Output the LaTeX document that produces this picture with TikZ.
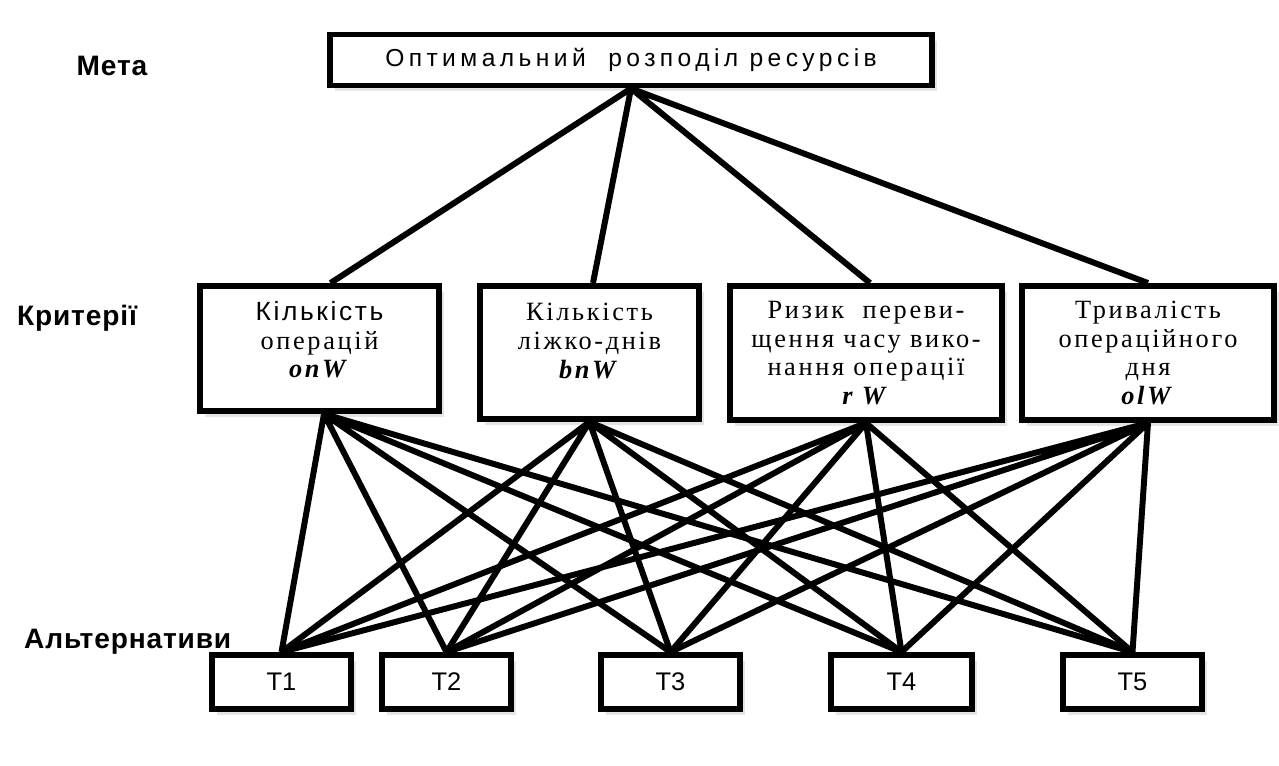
\documentclass[tikz,border=0pt]{standalone}
\usepackage{fontspec}
\setmainfont{Liberation Serif}
\setsansfont{Liberation Sans}
\newfontfamily\goalfont[LetterSpace=18]{Liberation Sans}
\newfontfamily\critfont[LetterSpace=10]{Liberation Serif}
\newfontfamily\critsans[LetterSpace=10]{Liberation Sans}
\newfontfamily\levelfont[LetterSpace=3]{Liberation Sans}
\usetikzlibrary{shadows}

\begin{document}
\begin{tikzpicture}[x=0.02cm, y=-0.02cm,
    box/.style={draw, line width=3.4pt, fill=white, inner sep=0pt, align=center,
      drop shadow={shadow xshift=0.1cm, shadow yshift=-0.12cm, fill=black!10, opacity=1}},
    crit/.style={box, minimum height=2.68cm, font=\critfont\fontsize{15pt}{16.3pt}\selectfont},
    alt/.style={box, minimum width=2.78cm, minimum height=1.08cm, font=\sffamily\fontsize{14.5pt}{16pt}\selectfont},
    level/.style={font=\levelfont\bfseries\fontsize{16pt}{18pt}\selectfont},
    link/.style={line width=3.4pt}]
    \useasboundingbox[fill=white] (0,0) rectangle (1279,765);

    % Goal
    \node[level] (meta) at (112,66) {Мета};
    \node[box, minimum width=12.04cm, minimum height=1.02cm,
      font=\goalfont\fontsize{14pt}{16pt}\selectfont] (goal) at (631,60)
      {Оптимальний\ \ розподіл ресурсів};

    % Criteria
    \node[level] (krit) at (77,318) {Критерії};
    \node[crit, minimum width=4.78cm, minimum height=2.5cm] (c1) at (319.5,348.5)
      {{\critsans Кількість}\\операцій\\\textbf{\textit{onW}}\\[-6pt]\mbox{}};
    \node[crit, minimum width=4.38cm, minimum height=2.66cm] (c2) at (589.5,352.5)
      {Кількість\\ліжко-днів\\\textbf{\textit{bnW}}\\[-3pt]\mbox{}};
    \node[crit, minimum width=5.44cm] (c3) at (866,353)
      {Ризик\ \ переви-\\щення часу вико-\\нання операції\\\textbf{\textit{r W}}};
    \node[crit, minimum width=5.04cm] (c4) at (1148,353)
      {Тривалість\\операційного\\дня\\\textbf{\textit{olW}}};

    % Alternatives
    \node[level, anchor=west] (alts) at (18,642) {Альтернативи};
    \node[alt] (t1) at (281.5,682) {T1};
    \node[alt, minimum width=2.58cm] (t2) at (446.5,682) {T2};
    \node[alt] (t3) at (670.5,682) {T3};
    \node[alt, minimum width=2.82cm] (t4) at (901.5,682) {T4};
    \node[alt] (t5) at (1132.5,682) {T5};

    % Goal to criteria
    \draw[link] (goal.south) -- ([xshift=0.22cm]c1.north)
      (goal.south) -- ([xshift=0.07cm]c2.north)
      (goal.south) -- ([xshift=0.08cm]c3.north)
      (goal.south) -- (c4.north);

    % Criteria to alternatives
    \draw[link] ([xshift=0.09cm]c1.south) -- (t1.north) ([xshift=0.09cm]c1.south) -- (t2.north)
      ([xshift=0.09cm]c1.south) -- (t3.north) ([xshift=0.09cm]c1.south) -- (t4.north)
      ([xshift=0.09cm]c1.south) -- (t5.north);
    \draw[link] (c2.south) -- (t1.north) (c2.south) -- (t2.north) (c2.south) -- (t3.north)
      (c2.south) -- (t4.north) (c2.south) -- (t5.north);
    \draw[link] (c3.south) -- (t1.north) (c3.south) -- (t2.north) (c3.south) -- (t3.north)
      (c3.south) -- (t4.north) (c3.south) -- (t5.north);
    \draw[link] (c4.south) -- (t1.north) (c4.south) -- (t2.north) (c4.south) -- (t3.north)
      (c4.south) -- (t4.north) (c4.south) -- (t5.north);
\end{tikzpicture}
\end{document}
